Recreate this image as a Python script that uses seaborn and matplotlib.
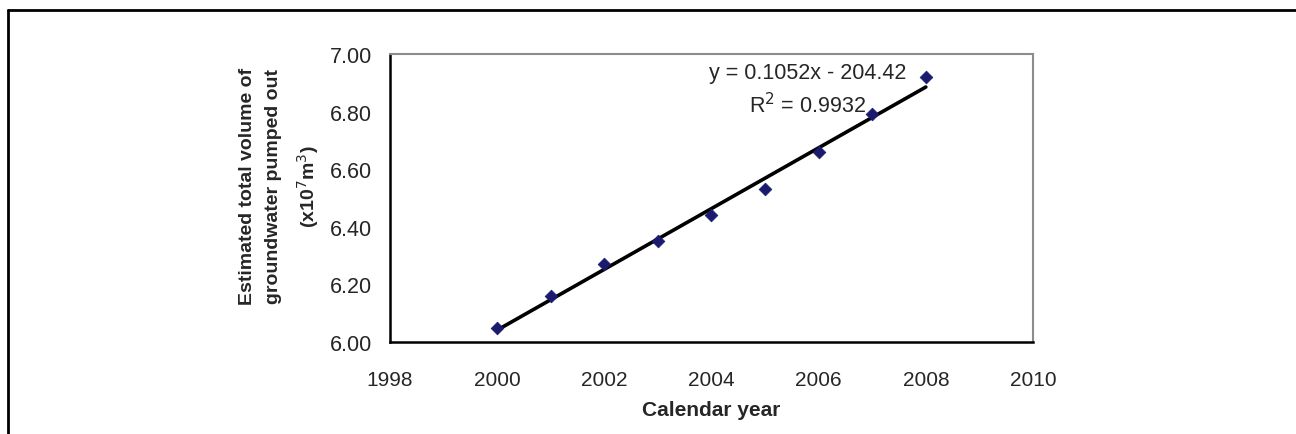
import matplotlib
matplotlib.use("Agg")
import matplotlib.pyplot as plt
import matplotlib.lines as mlines
import pandas as pd
import seaborn as sns

# Datos
years = [2000, 2001, 2002, 2003, 2004, 2005, 2006, 2007, 2008]
volume = [6.05, 6.16, 6.27, 6.35, 6.44, 6.53, 6.66, 6.79, 6.92]
x_ticks = [1998, 2000, 2002, 2004, 2006, 2008, 2010]
y_ticks = [6.00, 6.20, 6.40, 6.60, 6.80, 7.00]
eq_text = "y = 0.1052x - 204.42"
r2_text = "R$^2$ = 0.9932"

df = pd.DataFrame({"year": years, "volume": volume})

sns.set_style("white")
plt.rcParams["font.family"] = ["Liberation Sans", "DejaVu Sans"]

fig = plt.figure(figsize=(12.96, 4.35), dpi=100)
ax = fig.add_axes([390 / 1296, 1 - 343 / 435, (1033 - 390) / 1296, (343 - 55) / 435])

# Linea de tendencia y puntos
sns.regplot(data=df, x="year", y="volume", ax=ax, scatter=False, ci=None,
            truncate=True, line_kws={"color": "black", "lw": 2.6})
sns.scatterplot(data=df, x="year", y="volume", ax=ax, marker="D", s=42,
                color="#1a1a6e", edgecolor="#1a1a6e", zorder=3)

ax.set_xlim(1998, 2010)
ax.set_ylim(6.0, 7.0)
ax.set_xticks(x_ticks)
ax.set_yticks(y_ticks)
ax.set_yticklabels([f"{v:.2f}" for v in y_ticks])
ax.tick_params(direction="in", length=5, width=1, color="black")
ax.tick_params(axis="y", labelsize=15.5, pad=13)
ax.tick_params(axis="x", labelsize=15, pad=20)

for side in ["left", "bottom"]:
    ax.spines[side].set_color("black")
    ax.spines[side].set_linewidth(1.8)
for side in ["top", "right"]:
    ax.spines[side].set_color("#8c8c8c")
    ax.spines[side].set_linewidth(1.5)

ax.set_xlabel("Calendar year", fontsize=15, fontweight="bold", labelpad=8)
ax.set_ylabel("Estimated total volume of\ngroundwater pumped out\n(x10$^7$m$^3$)",
              fontsize=14, fontweight="bold", linespacing=1.7, labelpad=6)
ax.yaxis.label.set_y(0.542)

ax.text(2005.8, 6.935, eq_text, ha="center", va="center", fontsize=15.5)
ax.text(2005.8, 6.825, r2_text, ha="center", va="center", fontsize=15.5)

# Marco del documento
fig.add_artist(mlines.Line2D([8 / 1296, 1.0], [1 - 11 / 435, 1 - 11 / 435],
                             color="black", lw=2, transform=fig.transFigure))
fig.add_artist(mlines.Line2D([8 / 1296, 8 / 1296], [0.0, 1 - 11 / 435],
                             color="black", lw=2, transform=fig.transFigure))

fig.savefig("out.png", dpi=100)
